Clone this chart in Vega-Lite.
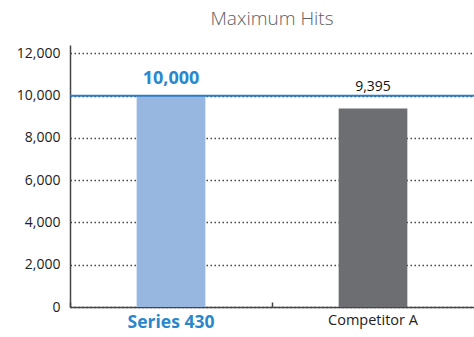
{
  "$schema": "https://vega.github.io/schema/vega-lite/v6.json",
  "width": 404,
  "height": 262,
  "autosize": {"type": "none"},
  "padding": {"left": 70, "top": 45, "right": 0, "bottom": 30},
  "background": "white",
  "config": {"view": {"stroke": null}, "font": "Open Sans"},
  "title": {"text": "Maximum Hits", "fontSize": 19, "fontWeight": 300, "color": "#606060", "anchor": "middle", "offset": 16, "font": "Open Sans"},
  "data": {"values": [
    {"product": "Series 430", "hits": 10000, "label": "10,000"},
    {"product": "Competitor A", "hits": 9395, "label": "9,395"}
  ]},
  "encoding": {
    "x": {"field": "product", "type": "nominal", "sort": null,
      "scale": {"paddingInner": 0.66, "paddingOuter": 0.33},
      "axis": {"title": null, "labelAngle": 0, "domainColor": "#444", "domainWidth": 1.5, "tickColor": "#444", "tickSize": -5, "tickWidth": 1.5, "bandPosition": -0.97, "labelPadding": 11,
        "labelColor": {"condition": {"test": "datum.value == 'Series 430'", "value": "#2a87cc"}, "value": "#222"},
        "labelFontSize": {"condition": {"test": "datum.value == 'Series 430'", "value": 17.5}, "value": 14.5},
        "labelFontWeight": {"condition": {"test": "datum.value == 'Series 430'", "value": "bold"}, "value": "normal"}}},
    "y": {"field": "hits", "type": "quantitative",
      "scale": {"domain": [0, 12400], "nice": false},
      "axis": {"title": null, "values": [0, 2000, 4000, 6000, 8000, 10000, 12000], "format": ",d", "ticks": false, "labelPadding": 10, "labelFontSize": 14, "labelColor": "#222", "domainColor": "#444", "domainWidth": 1.5, "grid": true, "gridColor": "#444", "gridDash": [1.5, 2.5], "gridWidth": 1.4}}
  },
  "layer": [
    {"mark": {"type": "bar"},
      "encoding": {"color": {"field": "product", "type": "nominal", "scale": {"domain": ["Series 430", "Competitor A"], "range": ["#97b7e0", "#6d6e72"]}, "legend": null}}},
    {"data": {"values": [{"hits": 10000}]}, "mark": {"type": "rule", "color": "#2b7dc5", "strokeWidth": 2},
      "encoding": {"x": null}},
    {"transform": [{"filter": "datum.product == 'Series 430'"}],
      "mark": {"type": "text", "dy": -8, "baseline": "bottom", "fontSize": 18, "fontWeight": "bold", "color": "#2a87cc"},
      "encoding": {"text": {"field": "label"}}},
    {"transform": [{"filter": "datum.product == 'Competitor A'"}],
      "mark": {"type": "text", "dy": -14, "baseline": "bottom", "fontSize": 14, "color": "#111"},
      "encoding": {"text": {"field": "label"}}}
  ]
}
